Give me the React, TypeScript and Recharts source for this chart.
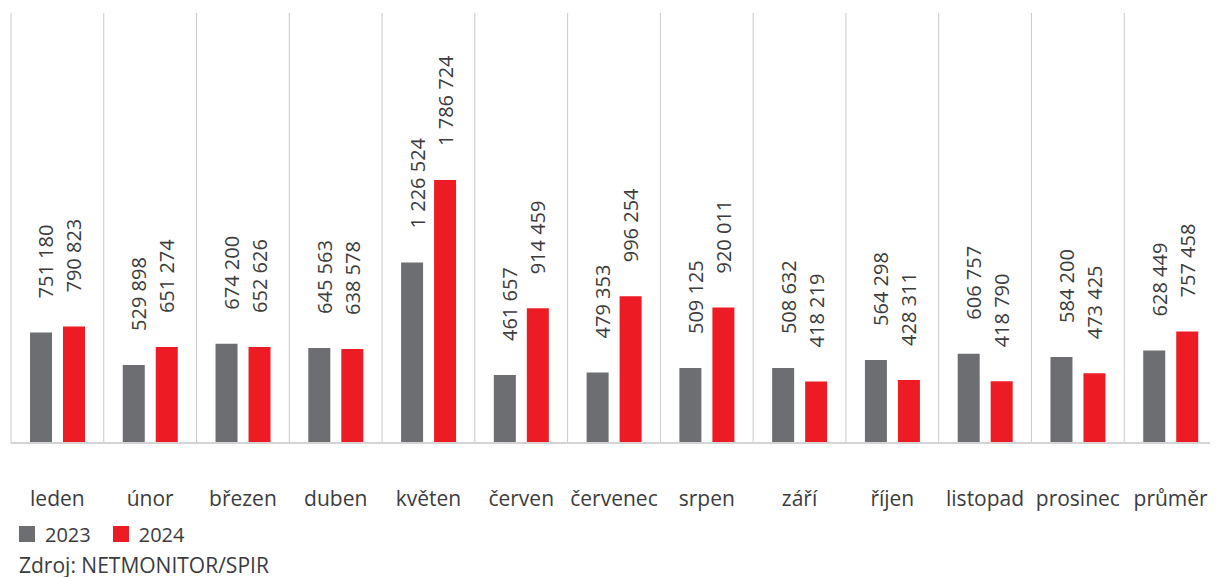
import React from "react";
import { BarChart, Bar, XAxis, YAxis, CartesianGrid, LabelList } from "recharts";

const categories = ["leden", "únor", "březen", "duben", "květen", "červen", "červenec", "srpen", "září", "říjen", "listopad", "prosinec", "průměr"];
const values2023 = [751180, 529898, 674200, 645563, 1226524, 461657, 479353, 509125, 508632, 564298, 606757, 584200, 628449];
const values2024 = [790823, 651274, 652626, 638578, 1786724, 914459, 996254, 920011, 418219, 428311, 418790, 473425, 757458];
const seriesNames = ["2023", "2024"];
const colors = ["#6d6e71", "#ed1c24"];
const sourceText = "Zdroj: NETMONITOR/SPIR";

const data = categories.map((c, i) => ({ name: c, v2023: values2023[i], v2024: values2024[i] }));

const FONT = "'Open Sans', sans-serif";
const TEXT = "#3c3c3c";

const fmt = (v: number) => String(v).replace(/\B(?=(\d{3})+(?!\d))/g, " ");

const makeLabel = (dx: number) => (props: any) => {
  const { x, y, width, value } = props;
  const cx = Number(x) + Number(width) / 2 + dx;
  const ty = Number(y) - 34;
  return (
    <text
      x={cx}
      y={ty}
      transform={`rotate(-90 ${cx} ${ty})`}
      textAnchor="start"
      dominantBaseline="central"
      fontFamily={FONT}
      fontSize={20}
      fill={TEXT}
    >
      {fmt(value)}
    </text>
  );
};

const Tick = (props: any) => {
  const { x, y, payload } = props;
  return (
    <text x={x} y={y + 55} textAnchor="middle" fontFamily={FONT} fontSize={21} fill={TEXT}>
      {payload.value}
    </text>
  );
};

export default function App() {
  return (
    <div style={{ position: "relative", width: 1210, height: 569, fontFamily: FONT, color: TEXT }}>
      <style>{`html{overflow:hidden;}`}</style>
      <BarChart
        width={1210}
        height={515}
        data={data}
        margin={{ top: 5, right: 1, left: 3, bottom: 20 }}
        barGap={11}
        barSize={22}
      >
        <CartesianGrid
          horizontal={false}
          stroke="#c9c9c9"
          verticalCoordinatesGenerator={({ offset }: any) => {
            const arr: number[] = [];
            for (let i = 0; i <= categories.length; i++) arr.push(offset.left + (i * offset.width) / categories.length);
            return arr;
          }}
        />
        <XAxis
          dataKey="name"
          tickLine={false}
          axisLine={{ stroke: "#d4d4d4", strokeWidth: 2 }}
          tick={<Tick />}
          height={60}
          interval={0}
        />
        <YAxis hide domain={[0, 2920000]} />
        <Bar dataKey="v2023" fill={colors[0]} isAnimationActive={false}>
          <LabelList dataKey="v2023" content={makeLabel(5)} />
        </Bar>
        <Bar dataKey="v2024" fill={colors[1]} isAnimationActive={false}>
          <LabelList dataKey="v2024" content={makeLabel(0)} />
        </Bar>
      </BarChart>
      <div style={{ position: "absolute", top: 518, left: 11, display: "flex", alignItems: "center", height: 16, fontSize: 20 }}>
        {seriesNames.map((n, i) => (
          <div key={n} style={{ display: "flex", alignItems: "center", marginRight: 22 }}>
            <span style={{ display: "inline-block", width: 16, height: 16, background: colors[i], marginRight: 10 }} />
            <span>{n}</span>
          </div>
        ))}
      </div>
      <div style={{ position: "absolute", top: 546, left: 11, fontSize: 21, lineHeight: "22px", whiteSpace: "nowrap" }}>{sourceText}</div>
    </div>
  );
}
